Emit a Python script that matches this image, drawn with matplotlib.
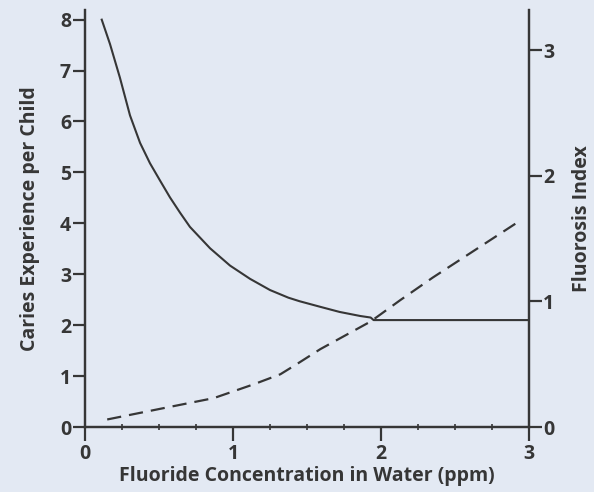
import matplotlib
matplotlib.use("Agg")
import matplotlib.pyplot as plt
from matplotlib.ticker import MultipleLocator

plt.rcParams['font.family'] = ['Open Sans', 'DejaVu Sans']
plt.rcParams['font.weight'] = 'bold'

# caries experience per child (left axis)
caries_x = [0.113, 0.169, 0.236, 0.304, 0.372, 0.439, 0.507, 0.574, 0.642,
            0.709, 0.845, 0.98, 1.115, 1.25, 1.374, 1.45, 1.59, 1.72, 1.86,
            1.93, 1.95, 3.0]
caries_y = [8.0, 7.52, 6.86, 6.12, 5.58, 5.18, 4.84, 4.51, 4.21,
            3.93, 3.51, 3.17, 2.91, 2.69, 2.54, 2.47, 2.36, 2.26, 2.18,
            2.15, 2.10, 2.10]

# fluorosis index (right axis)
fluor_x = [0.15, 0.53, 0.87, 1.14, 1.32, 1.43, 1.59, 1.93, 2.13, 2.35, 2.91]
fluor_y = [0.06, 0.15, 0.23, 0.34, 0.42, 0.50, 0.62, 0.84, 1.01, 1.19, 1.62]

left_ticks = [0, 1, 2, 3, 4, 5, 6, 7, 8]
right_ticks = [0, 1, 2, 3]
x_ticks = [0, 1, 2, 3]

bg = '#e3e9f3'
ink = '#363636'

fig = plt.figure(figsize=(5.94, 4.92), dpi=100, facecolor=bg)
ax = fig.add_axes([0.1431, 0.1321, 0.7475, 0.8476], facecolor=bg)
ax2 = ax.twinx()

ax.plot(caries_x, caries_y, color=ink, lw=1.5, solid_joinstyle='round')
ax2.plot(fluor_x, fluor_y, color=ink, lw=1.6, dashes=(6.4, 3.6))

ax.set_xlim(0, 3)
ax.set_ylim(0, 8.19)
ax2.set_ylim(0, 3.32)

for a in (ax, ax2):
    for s in a.spines.values():
        s.set_color(ink)
        s.set_linewidth(1.6)
    a.spines['top'].set_visible(False)

ax.set_xticks(x_ticks)
ax.set_yticks(left_ticks)
ax2.set_yticks(right_ticks)
ax.xaxis.set_minor_locator(MultipleLocator(0.25))

ax.tick_params(axis='y', direction='out', length=9, width=1.6, color=ink,
               pad=1, labelsize=14, labelcolor=ink)
ax2.tick_params(axis='y', direction='out', length=9, width=1.6, color=ink,
                pad=1, labelsize=14, labelcolor=ink)
ax.tick_params(axis='x', which='major', direction='out', length=10, width=1.6,
               color=ink, pad=2, labelsize=14, labelcolor=ink)
ax.tick_params(axis='x', which='minor', direction='inout', length=4, width=1.2,
               color=ink)

ax.set_xlabel('Fluoride Concentration in Water (ppm)', fontsize=14,
              fontweight='bold', color=ink, labelpad=2)
ax.set_ylabel('Caries Experience per Child', fontsize=14,
              fontweight='bold', color=ink, labelpad=14)
ax2.set_ylabel('Fluorosis Index', fontsize=14, fontweight='bold',
               color=ink, labelpad=13)

fig.savefig('out.png', dpi=100, facecolor=bg)
